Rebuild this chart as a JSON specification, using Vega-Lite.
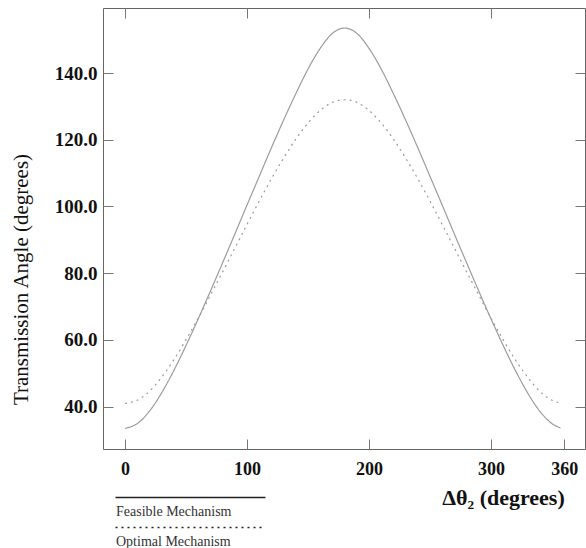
{
  "$schema": "https://vega.github.io/schema/vega-lite/v6.json",
  "width": 482,
  "height": 441,
  "autosize": {"type": "none"},
  "padding": {"left": 103, "top": 8, "right": 1, "bottom": 99},
  "background": "white",
  "config": {
    "view": {"stroke": "#666", "strokeWidth": 1},
    "font": "Liberation Serif"
  },
  "data": {
    "values": [
      {"theta": 0, "angle": 33.5, "mechanism": "Feasible Mechanism"},
      {"theta": 10, "angle": 34.9, "mechanism": "Feasible Mechanism"},
      {"theta": 20, "angle": 38.6, "mechanism": "Feasible Mechanism"},
      {"theta": 30, "angle": 44.1, "mechanism": "Feasible Mechanism"},
      {"theta": 40, "angle": 50.8, "mechanism": "Feasible Mechanism"},
      {"theta": 50, "angle": 58.3, "mechanism": "Feasible Mechanism"},
      {"theta": 60, "angle": 66.3, "mechanism": "Feasible Mechanism"},
      {"theta": 70, "angle": 74.6, "mechanism": "Feasible Mechanism"},
      {"theta": 80, "angle": 83.1, "mechanism": "Feasible Mechanism"},
      {"theta": 90, "angle": 91.7, "mechanism": "Feasible Mechanism"},
      {"theta": 100, "angle": 100.4, "mechanism": "Feasible Mechanism"},
      {"theta": 110, "angle": 109.0, "mechanism": "Feasible Mechanism"},
      {"theta": 120, "angle": 117.6, "mechanism": "Feasible Mechanism"},
      {"theta": 130, "angle": 125.9, "mechanism": "Feasible Mechanism"},
      {"theta": 140, "angle": 133.8, "mechanism": "Feasible Mechanism"},
      {"theta": 150, "angle": 141.2, "mechanism": "Feasible Mechanism"},
      {"theta": 160, "angle": 147.4, "mechanism": "Feasible Mechanism"},
      {"theta": 170, "angle": 151.9, "mechanism": "Feasible Mechanism"},
      {"theta": 180, "angle": 153.5, "mechanism": "Feasible Mechanism"},
      {"theta": 190, "angle": 151.9, "mechanism": "Feasible Mechanism"},
      {"theta": 200, "angle": 147.4, "mechanism": "Feasible Mechanism"},
      {"theta": 210, "angle": 141.2, "mechanism": "Feasible Mechanism"},
      {"theta": 220, "angle": 133.8, "mechanism": "Feasible Mechanism"},
      {"theta": 230, "angle": 125.9, "mechanism": "Feasible Mechanism"},
      {"theta": 240, "angle": 117.6, "mechanism": "Feasible Mechanism"},
      {"theta": 250, "angle": 109.0, "mechanism": "Feasible Mechanism"},
      {"theta": 260, "angle": 100.4, "mechanism": "Feasible Mechanism"},
      {"theta": 270, "angle": 91.7, "mechanism": "Feasible Mechanism"},
      {"theta": 280, "angle": 83.1, "mechanism": "Feasible Mechanism"},
      {"theta": 290, "angle": 74.6, "mechanism": "Feasible Mechanism"},
      {"theta": 300, "angle": 66.3, "mechanism": "Feasible Mechanism"},
      {"theta": 310, "angle": 58.3, "mechanism": "Feasible Mechanism"},
      {"theta": 320, "angle": 50.8, "mechanism": "Feasible Mechanism"},
      {"theta": 330, "angle": 44.1, "mechanism": "Feasible Mechanism"},
      {"theta": 340, "angle": 38.6, "mechanism": "Feasible Mechanism"},
      {"theta": 350, "angle": 34.9, "mechanism": "Feasible Mechanism"},
      {"theta": 357, "angle": 33.6, "mechanism": "Feasible Mechanism"},
      {"theta": 0, "angle": 41.0, "mechanism": "Optimal Mechanism"},
      {"theta": 10, "angle": 41.9, "mechanism": "Optimal Mechanism"},
      {"theta": 20, "angle": 44.6, "mechanism": "Optimal Mechanism"},
      {"theta": 30, "angle": 48.8, "mechanism": "Optimal Mechanism"},
      {"theta": 40, "angle": 54.0, "mechanism": "Optimal Mechanism"},
      {"theta": 50, "angle": 60.0, "mechanism": "Optimal Mechanism"},
      {"theta": 60, "angle": 66.5, "mechanism": "Optimal Mechanism"},
      {"theta": 70, "angle": 73.4, "mechanism": "Optimal Mechanism"},
      {"theta": 80, "angle": 80.4, "mechanism": "Optimal Mechanism"},
      {"theta": 90, "angle": 87.5, "mechanism": "Optimal Mechanism"},
      {"theta": 100, "angle": 94.6, "mechanism": "Optimal Mechanism"},
      {"theta": 110, "angle": 101.6, "mechanism": "Optimal Mechanism"},
      {"theta": 120, "angle": 108.3, "mechanism": "Optimal Mechanism"},
      {"theta": 130, "angle": 114.5, "mechanism": "Optimal Mechanism"},
      {"theta": 140, "angle": 120.2, "mechanism": "Optimal Mechanism"},
      {"theta": 150, "angle": 125.0, "mechanism": "Optimal Mechanism"},
      {"theta": 160, "angle": 128.8, "mechanism": "Optimal Mechanism"},
      {"theta": 170, "angle": 131.2, "mechanism": "Optimal Mechanism"},
      {"theta": 180, "angle": 132.0, "mechanism": "Optimal Mechanism"},
      {"theta": 190, "angle": 131.2, "mechanism": "Optimal Mechanism"},
      {"theta": 200, "angle": 128.8, "mechanism": "Optimal Mechanism"},
      {"theta": 210, "angle": 125.0, "mechanism": "Optimal Mechanism"},
      {"theta": 220, "angle": 120.2, "mechanism": "Optimal Mechanism"},
      {"theta": 230, "angle": 114.5, "mechanism": "Optimal Mechanism"},
      {"theta": 240, "angle": 108.3, "mechanism": "Optimal Mechanism"},
      {"theta": 250, "angle": 101.6, "mechanism": "Optimal Mechanism"},
      {"theta": 260, "angle": 94.6, "mechanism": "Optimal Mechanism"},
      {"theta": 270, "angle": 87.5, "mechanism": "Optimal Mechanism"},
      {"theta": 280, "angle": 80.4, "mechanism": "Optimal Mechanism"},
      {"theta": 290, "angle": 73.4, "mechanism": "Optimal Mechanism"},
      {"theta": 300, "angle": 66.5, "mechanism": "Optimal Mechanism"},
      {"theta": 310, "angle": 60.0, "mechanism": "Optimal Mechanism"},
      {"theta": 320, "angle": 54.0, "mechanism": "Optimal Mechanism"},
      {"theta": 330, "angle": 48.8, "mechanism": "Optimal Mechanism"},
      {"theta": 340, "angle": 44.6, "mechanism": "Optimal Mechanism"},
      {"theta": 350, "angle": 41.9, "mechanism": "Optimal Mechanism"},
      {"theta": 358, "angle": 41.0, "mechanism": "Optimal Mechanism"}
    ]
  },
  "resolve": {"axis": {"x": "independent", "y": "independent"}},
  "layer": [
    {
      "mark": {"type": "line", "interpolate": "monotone", "strokeWidth": 1.2, "color": "#9c9c9c"},
      "encoding": {
        "x": {
          "field": "theta", "type": "quantitative",
          "scale": {"domain": [-18, 377], "nice": false, "zero": false},
          "axis": {
            "orient": "bottom",
            "values": [0, 100, 200, 300, 360],
            "domain": false, "grid": false,
            "tickSize": -10, "tickColor": "#777",
            "labelFont": "Liberation Serif", "labelFontWeight": "bold", "labelFontSize": 18,
            "labelColor": "#111", "labelPadding": 21, "labelBaseline": "top",
            "title": "Δθ₂    (degrees)",
            "titleFont": "Liberation Serif", "titleFontWeight": "bold", "titleFontSize": 22,
            "titleColor": "#111", "titleAnchor": "middle",
            "titleX": 400, "titleY": 48, "titleBaseline": "middle", "titleAlign": "center"
          }
        },
        "y": {
          "field": "angle", "type": "quantitative",
          "scale": {"domain": [27.3, 159.5], "nice": false, "zero": false},
          "axis": {
            "orient": "left",
            "values": [40, 60, 80, 100, 120, 140],
            "format": ".1f",
            "domain": false, "grid": false,
            "tickSize": -10, "tickColor": "#777",
            "labelFont": "Liberation Serif", "labelFontWeight": "bold", "labelFontSize": 19,
            "labelColor": "#111", "labelPadding": 16,
            "title": "Transmission Angle (degrees)",
            "titleFont": "Liberation Serif", "titleFontWeight": "normal", "titleFontSize": 21,
            "titleColor": "#111", "titleX": -82, "titleY": 271,
            "titleAngle": -90, "titleAlign": "center", "titleBaseline": "middle"
          }
        },
        "strokeDash": {
          "field": "mechanism", "type": "nominal",
          "scale": {"domain": ["Feasible Mechanism", "Optimal Mechanism"], "range": [[1, 0], [2, 4]]},
          "legend": {
            "title": null,
            "orient": "none",
            "legendX": 79,
            "legendY": 481,
            "direction": "vertical",
            "padding": 0,
            "symbolType": "M-10,0H10",
            "symbolSize": 225,
            "symbolStrokeColor": "#222",
            "symbolStrokeWidth": 1.5,
            "labelOffset": -83,
            "labelFont": "Liberation Serif",
            "labelFontSize": 14,
            "labelColor": "#333",
            "labelLimit": 300,
            "rowPadding": -8,
            "encode": {"labels": {"update": {"dy": {"value": 14}}}}
          }
        }
      }
    },
    {
      "mark": {"type": "line", "opacity": 0},
      "encoding": {
        "x": {
          "field": "theta", "type": "quantitative",
          "scale": {"domain": [-18, 377], "nice": false, "zero": false},
          "axis": {
            "orient": "top", "values": [0, 100, 200, 300],
            "domain": false, "grid": false, "labels": false, "title": null,
            "tickSize": -10, "tickColor": "#777"
          }
        },
        "y": {
          "field": "angle", "type": "quantitative",
          "scale": {"domain": [27.3, 159.5], "nice": false, "zero": false},
          "axis": {
            "orient": "right", "values": [40, 60, 80, 100, 120, 140],
            "domain": false, "grid": false, "labels": false, "title": null,
            "tickSize": -10, "tickColor": "#777"
          }
        },
        "detail": {"field": "mechanism", "type": "nominal"}
      }
    }
  ]
}
